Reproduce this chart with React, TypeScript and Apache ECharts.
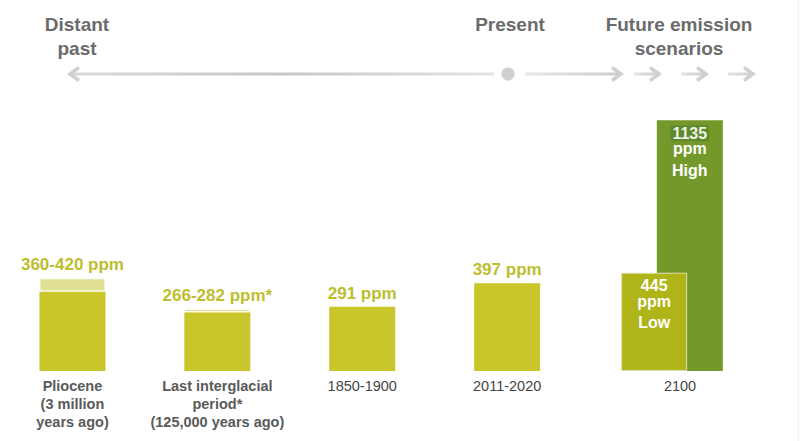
import React, { useEffect, useRef } from 'react';
import * as echarts from 'echarts';

const categories = ['Pliocene', 'Last interglacial', '1850-1900', '2011-2020', '2100'];
const categoryLines = [
  ['Pliocene', '(3 million', 'years ago)'],
  ['Last interglacial', 'period*', '(125,000 years ago)'],
  ['1850-1900'],
  ['2011-2020'],
  ['2100'],
];
const boldCategory = [true, true, false, false, false];
const lowerValues = [360, 266, 291, 397, null];
const upperValues = [420, 282, null, null, null];
const valueLabels = ['360-420 ppm', '266-282 ppm*', '291 ppm', '397 ppm', ''];
const scenarioYear = '2100';
const scenarioNames = ['Low', 'High'];
const scenarioValues = [445, 1135];
const headings = ['Distant\npast', 'Present', 'Future emission\nscenarios'];

const FONT = "'Liberation Sans', Arial, sans-serif";
const GRAY_ARROW = '#d0d0d0';

export default function App() {
  const ref = useRef<HTMLDivElement>(null);
  useEffect(() => {
    if (!ref.current) return;
    const chart = echarts.init(ref.current, null, { renderer: 'svg' });

    const baseData = lowerValues.map((v, i) =>
      v == null
        ? '-'
        : {
            value: v,
            label: { show: upperValues[i] == null, formatter: valueLabels[i] },
          }
    );
    const rangeData = upperValues.map((u, i) =>
      u == null || lowerValues[i] == null
        ? '-'
        : { value: u - (lowerValues[i] as number), label: { show: true, formatter: valueLabels[i] } }
    );
    const scenarioData = (k: number) => categories.map((c) => (c === scenarioYear ? scenarioValues[k] : '-'));

    const valueLabelStyle = {
      position: 'top' as const,
      distance: 5,
      color: '#bcbe2e',
      fontFamily: FONT,
      fontWeight: 'bold' as const,
      fontSize: 17,
    };

    const innerLabel = (name: string, boxed: boolean) => ({
      show: true,
      position: 'insideTop' as const,
      distance: 5,
      formatter: (p: any) => `{v|${p.value}}\n{p|ppm}\n{w|${name}}`,
      rich: {
        v: {
          color: boxed ? '#eef3e6' : '#ffffff',
          fontFamily: FONT,
          fontWeight: 'bold',
          fontSize: 16,
          lineHeight: 16,
          backgroundColor: boxed ? '#5f892d' : 'transparent',
          borderRadius: 2,
          padding: boxed ? [0, 2, 0, 2] : 0,
        },
        p: { color: '#ffffff', fontFamily: FONT, fontWeight: 'bold', fontSize: 16, lineHeight: 15 },
        w: { color: '#ffffff', fontFamily: FONT, fontWeight: 'bold', fontSize: 16, lineHeight: 28 },
      },
    });

    const chevron = (x: number, dir: number) => ({
      type: 'polyline',
      shape: { points: [[x - 9 * dir, 67.5], [x, 74], [x - 9 * dir, 80.5]] },
      style: { stroke: GRAY_ARROW, lineWidth: 3.5, fill: null, lineJoin: 'miter' },
    });
    const hline = (x1: number, x2: number, stops: string[]) => ({
      type: 'rect',
      shape: { x: x1, y: 72.5, width: x2 - x1, height: 3 },
      style: {
        fill: new echarts.graphic.LinearGradient(
          0,
          0,
          1,
          0,
          stops.map((c, i) => ({ offset: i / (stops.length - 1), color: c }))
        ),
      },
    });

    const headingStyle = (text: string, x: number) => ({
      type: 'text',
      x,
      y: 12,
      style: {
        text,
        align: 'center',
        verticalAlign: 'top',
        fontFamily: FONT,
        fontWeight: 'bold',
        fontSize: 19,
        lineHeight: 24,
        fill: '#6b6b6b',
      },
    });

    chart.setOption({
      animation: false,
      backgroundColor: '#ffffff',
      grid: [
        { left: 0, right: 75.5, top: 106, bottom: 70 },
        { left: 15, right: 55, top: 106, bottom: 70 },
      ],
      xAxis: [
        {
          type: 'category',
          gridIndex: 0,
          data: categories,
          axisLine: { show: false },
          axisTick: { show: false },
          axisLabel: {
            interval: 0,
            margin: 6,
            formatter: (_v: string, idx: number) => {
              if (categories[idx] === scenarioYear) return '';
              const tag = boldCategory[idx] ? 'b' : 'n';
              return categoryLines[idx].map((l) => `{${tag}|${l}}`).join('\n');
            },
            rich: {
              b: { fontFamily: FONT, fontWeight: 'bold', fontSize: 14.5, lineHeight: 18, color: '#5a5a5a' },
              n: { fontFamily: FONT, fontSize: 14.5, lineHeight: 18, color: '#454545' },
            },
          },
        },
        {
          type: 'category',
          gridIndex: 1,
          data: categories,
          axisLine: { show: false },
          axisTick: { show: false },
          axisLabel: {
            interval: 0,
            margin: 6,
            formatter: (v: string) => (v === scenarioYear ? `{y|${v}}` : ''),
            rich: {
              y: { fontFamily: FONT, fontSize: 14.5, lineHeight: 18, color: '#454545', padding: [0, 0, 0, 16] },
            },
          },
        },
      ],
      yAxis: [
        { type: 'value', gridIndex: 0, min: 0, max: 1200, show: false },
        { type: 'value', gridIndex: 1, min: 0, max: 1200, show: false },
      ],
      series: [
        {
          name: 'base',
          type: 'bar',
          xAxisIndex: 0,
          yAxisIndex: 0,
          stack: 'co2',
          barWidth: 66,
          itemStyle: { color: '#c8c62a' },
          label: valueLabelStyle,
          data: baseData,
        },
        {
          name: 'range',
          type: 'bar',
          xAxisIndex: 0,
          yAxisIndex: 0,
          stack: 'co2',
          barWidth: 66,
          itemStyle: { color: '#e1e095', borderColor: '#ffffff', borderWidth: 1 },
          label: valueLabelStyle,
          data: rangeData,
        },
        {
          name: scenarioNames[0],
          type: 'bar',
          xAxisIndex: 1,
          yAxisIndex: 1,
          barWidth: 66,
          barGap: '-46%',
          z: 4,
          itemStyle: { color: '#afb418', borderColor: '#dfe2b0', borderWidth: 1 },
          label: innerLabel(scenarioNames[0], false),
          data: scenarioData(0),
        },
        {
          name: scenarioNames[1],
          type: 'bar',
          xAxisIndex: 1,
          yAxisIndex: 1,
          barWidth: 66,
          barGap: '-46%',
          z: 2,
          itemStyle: { color: '#74992a' },
          label: innerLabel(scenarioNames[1], true),
          data: scenarioData(1),
        },
      ],
      graphic: [
        headingStyle(headings[0], 77),
        headingStyle(headings[1], 510),
        headingStyle(headings[2], 679),
        hline(71, 494, ['#dadada', '#c6c6c6', '#e4e4e4']),
        chevron(70, -1),
        {
          type: 'circle',
          shape: { cx: 508, cy: 74, r: 6.5 },
          style: { fill: '#cfcfd1' },
        },
        hline(525, 619, ['#e8e8e8', '#cccccc']),
        chevron(621, 1),
        hline(634, 657, ['#e2e2e2', '#d0d0d0']),
        chevron(659, 1),
        hline(681, 704, ['#e2e2e2', '#d0d0d0']),
        chevron(706, 1),
        hline(728, 751, ['#e2e2e2', '#d0d0d0']),
        chevron(753, 1),
        {
          type: 'rect',
          shape: { x: 798, y: 0, width: 1, height: 441 },
          style: { fill: '#f7f1e2' },
        },
      ],
    });
    return () => chart.dispose();
  }, []);
  return <div ref={ref} style={{ position: 'absolute', left: 0, top: 0, width: 800, height: 441 }} />;
}
